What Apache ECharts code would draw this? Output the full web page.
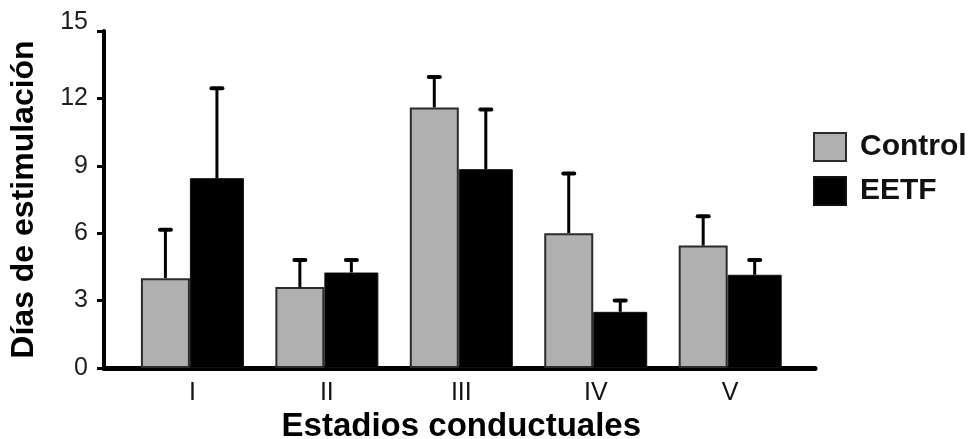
<!DOCTYPE html>
<html>
<head>
<meta charset="utf-8">
<title>Días de estimulación por estadio conductual</title>
<script src="https://cdn.jsdelivr.net/npm/echarts@6/dist/echarts.min.js"></script>
<style>
  html, body { margin: 0; padding: 0; background: #ffffff; }
  #chart { width: 972px; height: 439px; }
</style>
</head>
<body>
<div id="chart"></div>
<script>
// Behavioural stages (x categories)
const stages = ['I', 'II', 'III', 'IV', 'V'];

// Mean days of stimulation per stage
const controlMeans = [4.0, 3.6, 11.6, 6.0, 5.45];
const eetfMeans    = [8.45, 4.25, 8.85, 2.5, 4.15];

// Upper error (standard deviation) for each mean
const controlSD = [2.2, 1.25, 1.4, 2.7, 1.35];
const eetfSD    = [4.05, 0.6, 2.7, 0.55, 0.7];

// Value axis ticks
const yTicks = [0, 3, 6, 9, 12, 15];

const FONT = '"Liberation Sans", Arial, Helvetica, sans-serif';
const GRAY_W = 49;   // width of the Control bars
const BLACK_W = 54;  // width of the EETF bars
const CAP = 11;      // width of the error-bar caps

const chart = echarts.init(document.getElementById('chart'), null, { renderer: 'canvas' });

// Upper error bar drawn from the bar top, shifted to the bar centre within its pair
function errorBar(shift) {
  return function (params, api) {
    const idx = api.value(0);
    const base = api.coord([idx, api.value(1)]);
    const top = api.coord([idx, api.value(2)]);
    const x = base[0] + shift;
    return {
      type: 'group',
      children: [
        { type: 'line', shape: { x1: x, y1: base[1], x2: x, y2: top[1] + 1 },
          style: { stroke: '#000', lineWidth: 3 } },
        { type: 'line', shape: { x1: x - CAP / 2, y1: top[1] + 1, x2: x + CAP / 2, y2: top[1] + 1 },
          style: { stroke: '#000', lineWidth: 4, lineCap: 'round' } }
      ]
    };
  };
}

const controlErr = stages.map((s, i) => [i, controlMeans[i], controlMeans[i] + controlSD[i]]);
const eetfErr = stages.map((s, i) => [i, eetfMeans[i], eetfMeans[i] + eetfSD[i]]);

const option = {
  backgroundColor: '#ffffff',
  animation: false,
  textStyle: { fontFamily: FONT },
  grid: [
    // plotting area for the bars (one band per stage)
    { left: 125.2, top: 31, width: 672.2, height: 337, outerBoundsMode: 'none', containLabel: false },
    // frame carrying the visible axes
    { left: 104, top: 31, width: 711, height: 337, outerBoundsMode: 'none', containLabel: false }
  ],
  legend: {
    orient: 'vertical',
    left: 813,
    top: 132,
    padding: 0,
    itemWidth: 32,
    itemHeight: 28,
    itemGap: 14,
    icon: 'rect',
    data: ['Control', 'EETF'],
    textStyle: {
      fontFamily: FONT, fontSize: 30, fontWeight: 'bold', color: '#111',
      padding: [0, 0, 0, 9]
    }
  },
  xAxis: [
    {
      type: 'category',
      gridIndex: 0,
      data: stages,
      axisLine: { show: false },
      axisTick: { show: false },
      axisLabel: { color: '#111', fontSize: 25, fontFamily: FONT, margin: 13 },
      name: 'Estadios conductuales',
      nameLocation: 'middle',
      nameGap: 36,
      nameTextStyle: { fontSize: 33, fontWeight: 'bold', color: '#000', fontFamily: FONT }
    },
    {
      type: 'value',
      gridIndex: 1,
      min: 0,
      max: 1,
      axisLine: { show: true, lineStyle: { color: '#000', width: 5 } },
      axisTick: { show: false },
      axisLabel: { show: false },
      splitLine: { show: false }
    }
  ],
  yAxis: [
    {
      type: 'value',
      gridIndex: 0,
      min: 0,
      max: 15,
      interval: 3,
      show: false
    },
    {
      type: 'value',
      gridIndex: 1,
      min: yTicks[0],
      max: yTicks[yTicks.length - 1],
      interval: 3,
      axisLine: { show: true, lineStyle: { color: '#000', width: 4 } },
      axisTick: { show: true, length: 7, lineStyle: { color: '#000', width: 3 } },
      splitLine: { show: false },
      axisLabel: {
        color: '#1e1e1e',
        fontSize: 25,
        fontFamily: FONT,
        margin: 16,
        formatter: v => (v === yTicks[yTicks.length - 1] ? '{top|' + v + '}' : String(v)),
        rich: { top: { fontSize: 25, fontFamily: FONT, color: '#1e1e1e', padding: [0, 0, 18, 0] } }
      },
      name: 'Días de estimulación',
      nameLocation: 'middle',
      nameGap: 64,
      nameTextStyle: { fontSize: 32, fontWeight: 'bold', color: '#000', fontFamily: FONT }
    }
  ],
  series: [
    {
      name: 'Control',
      type: 'bar',
      xAxisIndex: 0,
      yAxisIndex: 0,
      barWidth: GRAY_W,
      barGap: '0%',
      data: controlMeans,
      itemStyle: { color: '#b0b0b0', borderColor: '#2b2b2b', borderWidth: 2 }
    },
    {
      name: 'EETF',
      type: 'bar',
      xAxisIndex: 0,
      yAxisIndex: 0,
      barWidth: BLACK_W,
      barGap: '0%',
      data: eetfMeans,
      itemStyle: { color: '#000000', borderColor: '#111', borderWidth: 1 }
    },
    {
      type: 'custom',
      xAxisIndex: 0,
      yAxisIndex: 0,
      silent: true,
      z: 5,
      renderItem: errorBar(-BLACK_W / 2),
      data: controlErr
    },
    {
      type: 'custom',
      xAxisIndex: 0,
      yAxisIndex: 0,
      silent: true,
      z: 5,
      renderItem: errorBar(GRAY_W / 2),
      data: eetfErr
    }
  ]
};

chart.setOption(option);
</script>
</body>
</html>
